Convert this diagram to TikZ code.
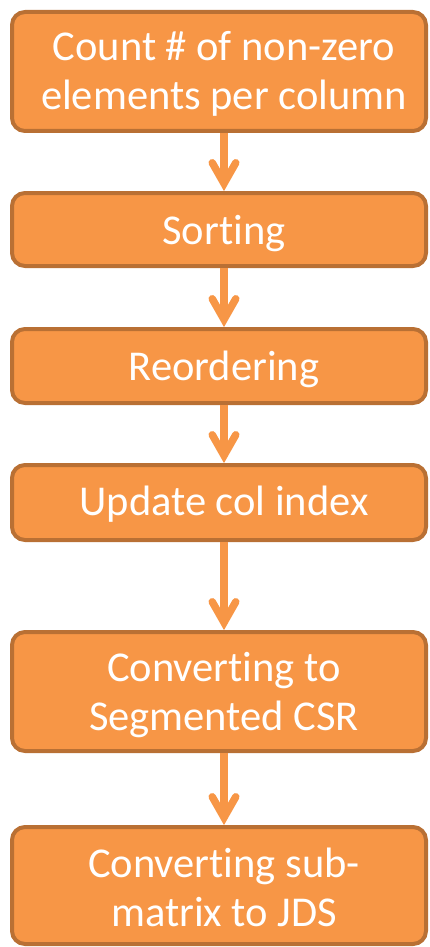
\documentclass[tikz,border=0pt]{standalone}
\usepackage{fontspec}
\setmainfont[Ligatures=NoCommon]{Carlito}
\definecolor{boxfill}{HTML}{F79646}
\definecolor{boxline}{HTML}{B97034}
\tikzset{
  stepbox/.style={draw=boxline, fill=boxfill, line width=4pt, rounded corners=13pt,
    minimum width=414pt, inner sep=0pt},
  steptext/.style={text=white, align=center, inner sep=0pt, anchor=base,
    font=\fontsize{42.5pt}{49pt}\selectfont},
  flow/.style={draw=boxfill, line width=7.5pt, line join=miter, line cap=butt},
  flowhead/.style={draw=boxfill, line width=7.5pt, line join=miter, line cap=round}
}
\begin{document}
\begin{tikzpicture}[x=1pt, y=-1pt]
\useasboundingbox (0,0) rectangle (430,947);

% boxes
\node[stepbox, minimum height=119pt] (b1) at (219,71.5) {};
\node[stepbox, minimum height=73pt]  (b2) at (219,229.5) {};
\node[stepbox, minimum height=74pt]  (b3) at (219,366) {};
\node[stepbox, minimum height=75pt]  (b4) at (219,502.5) {};
\node[stepbox, minimum height=119pt] (b5) at (219,691.5) {};
\node[stepbox, minimum height=117pt] (b6) at (219,885.5) {};

% labels, placed on their last baseline
\node[steptext] (t1) at (224,110) {Count \# of non-zero\\elements per column};
\node[steptext] (t2) at (224,244) {Sorting};
\node[steptext] (t3) at (224,380) {Reordering};
\node[steptext] (t4) at (224,515) {Update col index};
\node[steptext] (t5) at (224,730) {Converting to\\Segmented CSR};
\node[steptext] (t6) at (224,926) {Converting sub-\\matrix to JDS};

% connectors: shaft plus open chevron head
\foreach \a/\b in {b1/b2, b2/b3, b3/b4, b4/b5, b5/b6}{
  \coordinate (tip) at ([xshift=5pt, yshift=7.5pt]\b.north);
  \draw[flow] ([xshift=5pt]\a.south) -- (tip);
  \draw[flowhead] (tip) ++(-11.75,-20.7) -- (tip) -- ++(11.75,-20.7);
}
\end{tikzpicture}
\end{document}
